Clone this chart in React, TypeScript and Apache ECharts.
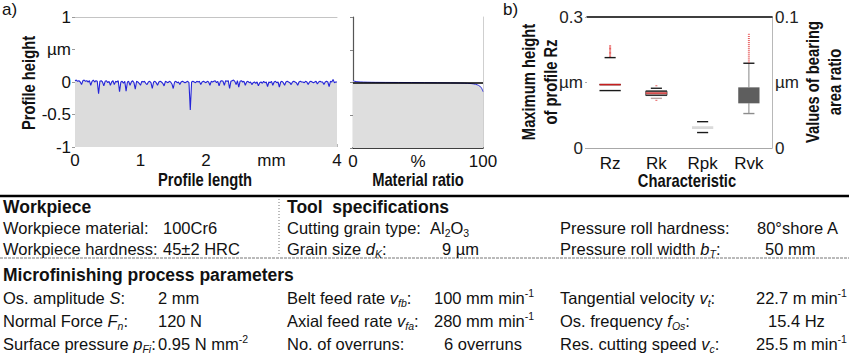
import React, { useEffect, useRef } from "react";
import * as echarts from "echarts";

const FONT = "'Liberation Sans', Arial, Helvetica, sans-serif";

// Roughness profile: heights in µm, one sample every 0.02 mm over 4 mm
const profileStepMm = 0.02;
const profileHeights = [
  0.02, 0.03, 0.01, 0.02, 0.0, -0.04, 0.02, 0.03, 0.01, 0.02,
  0.0, 0.02, -0.05, 0.01, 0.03, 0.0, 0.02, 0.01, -0.18, 0.01,
  0.02, 0.0, -0.06, 0.01, 0.02, -0.01, 0.01, -0.05, 0.0, 0.02,
  -0.04, 0.01, 0.0, 0.02, -0.15, 0.0, 0.01, -0.02, 0.01, -0.14,
  0.0, 0.01, -0.05, 0.0, 0.02, -0.01, -0.11, 0.01, 0.0, -0.02,
  -0.05, 0.01, 0.0, 0.01, -0.02, -0.04, 0.0, 0.01, -0.01, -0.1,
  0.0, 0.01, -0.01, -0.05, 0.0, 0.01, 0.0, -0.02, -0.06, 0.01,
  0.0, -0.01, 0.01, 0.0, -0.03, -0.1, 0.0, 0.01, -0.01, 0.0,
  -0.04, 0.0, 0.01, 0.0, -0.01, 0.0, 0.01, -0.01, -0.43, 0.0,
  0.01, 0.0, -0.01, 0.01, 0.0, 0.01, -0.04, 0.0, 0.01, 0.0,
  -0.01, 0.01, 0.0, -0.05, 0.01, 0.0, 0.01, 0.02, -0.01, 0.01,
  -0.06, 0.01, 0.02, 0.01, -0.05, 0.02, 0.01, 0.02, -0.1, 0.01,
  0.02, 0.03, 0.01, -0.04, 0.02, -0.08, 0.01, 0.02, 0.0, 0.01,
  -0.05, 0.0, 0.01, -0.01, 0.0, -0.04, -0.01, 0.0, -0.02, 0.0,
  -0.06, -0.01, 0.0, -0.02, 0.01, -0.01, 0.0, -0.07, 0.0, -0.01,
  0.01, -0.05, 0.0, 0.01, -0.01, 0.0, -0.08, 0.0, 0.01, -0.01,
  -0.05, 0.0, 0.01, 0.0, -0.01, -0.04, 0.0, 0.01, 0.0, -0.01,
  -0.05, 0.0, 0.01, 0.0, 0.0, -0.01, 0.01, 0.0, -0.04, 0.0,
  0.01, 0.0, -0.01, 0.0, 0.01, -0.03, 0.0, 0.01, 0.0, 0.0,
  -0.04, 0.0, 0.01, 0.0, -0.07, 0.01, 0.0, 0.04, -0.01, 0.0,
  0.0,
];

// Material ratio (Abbott-Firestone) curve
const materialRatioPct = [0, 1, 3, 8, 20, 40, 60, 80, 86, 90, 93, 95.5, 97.5, 99, 100];
const materialRatioHeight = [0.03, 0.02, 0.012, 0.006, 0.002, 0.0, -0.003, -0.007, -0.01, -0.015, -0.022, -0.035, -0.055, -0.09, -0.14];

// Roughness characteristics, box statistics in µm: [lower whisker, Q1, median, Q3, upper whisker]
const characteristics = ["Rz", "Rk", "Rpk", "Rvk"];
const rzBox = [0.1315, 0.1315, 0.1452, 0.1452, 0.207];
const rkBox = [0.0379, 0.0402, 0.0419, 0.0434, 0.0456];
const rpkBox = [0.0118, 0.0145, 0.0155, 0.0166, 0.0201];
const rvkBox = [0.0263, 0.0341, 0.04, 0.0463, 0.0647];
const rzOutliers = [0.21, 0.213, 0.216, 0.219, 0.222, 0.225, 0.228, 0.231, 0.234];
const rkOutliers = [0.0475, 0.0364];
const rvkOutliers = [0.0656, 0.0671, 0.0686, 0.0701, 0.0716, 0.0731, 0.0746, 0.0761, 0.0776, 0.0791, 0.0806, 0.0821, 0.0836, 0.0851, 0.0868];

// Tick labels
const lengthTicks = ["0", "1", "2", "mm", "4"];
const heightTicks = ["-1", "-0.5", "0", "µm", "1"];
const ratioTicks = ["0", "%", "100"];
const rzTicks = ["0", "µm", "0.3"];
const bearingTicks = ["0", "µm", "0.1"];

const tickFrom = (labels: string[], min: number, step: number) => (v: number) =>
  labels[Math.round((v - min) / step)] ?? "";

type Look = {
  fill: string | null;
  edge: string | null;
  sides: boolean;
  median: string | null;
  whisker: string | null;
  upperCap: string | null;
  lowerCap: string | null;
};

const boxLooks: Record<string, Look> = {
  Rz: { fill: null, edge: "#1a1a1a", sides: false, median: "#c81e1e", whisker: null, upperCap: "#1a1a1a", lowerCap: null },
  Rk: { fill: "#e6c3c3", edge: "#333333", sides: true, median: "#d03a3a", whisker: null, upperCap: "#222222", lowerCap: "#b8a2a2" },
  Rpk: { fill: "#dadada", edge: null, sides: false, median: null, whisker: null, upperCap: "#1a1a1a", lowerCap: "#1a1a1a" },
  Rvk: { fill: "#5e5e5e", edge: null, sides: false, median: null, whisker: "#9a9a9a", upperCap: "#1a1a1a", lowerCap: "#8c8c8c" },
};

const renderBox = (params: any, api: any) => {
  const cat = api.value(0);
  const look = boxLooks[characteristics[cat]];
  const lo = api.coord([cat, api.value(1)]);
  const q1 = api.coord([cat, api.value(2)]);
  const med = api.coord([cat, api.value(3)]);
  const q3 = api.coord([cat, api.value(4)]);
  const hi = api.coord([cat, api.value(5)]);
  const band = api.size([1, 0])[0];
  const bw = band * 0.46;
  const cw = band * 0.24;
  const cx = lo[0];
  const children: any[] = [];
  const hline = (y: number, half: number, color: string, w = 1.4) => ({
    type: "line",
    shape: { x1: cx - half, y1: y, x2: cx + half, y2: y },
    style: { stroke: color, lineWidth: w },
  });
  if (look.whisker) {
    children.push({ type: "line", shape: { x1: cx, y1: q3[1], x2: cx, y2: hi[1] }, style: { stroke: look.whisker, lineWidth: 1.2 } });
    children.push({ type: "line", shape: { x1: cx, y1: q1[1], x2: cx, y2: lo[1] }, style: { stroke: look.whisker, lineWidth: 1.2 } });
  }
  if (look.fill) {
    children.push({
      type: "rect",
      shape: { x: cx - bw / 2, y: q3[1], width: bw, height: Math.max(q1[1] - q3[1], 1) },
      style: { fill: look.fill, stroke: look.sides && look.edge ? look.edge : null, lineWidth: 0.8 },
    });
  }
  if (look.edge) {
    children.push(hline(q3[1], bw / 2, look.edge));
    children.push(hline(q1[1], bw / 2, look.edge));
  }
  if (look.median) children.push(hline(med[1], bw / 2, look.median, 1.5));
  if (look.upperCap) children.push(hline(hi[1], cw / 2, look.upperCap));
  if (look.lowerCap) children.push(hline(lo[1], cw / 2, look.lowerCap));
  return { type: "group", children };
};

const axisText = { fontFamily: FONT, fontSize: 17, color: "#111" };
const noSplit = { show: false };

const title = (text: string, x: number, y: number, vertical = false) => ({
  type: "text",
  x,
  y,
  rotation: vertical ? Math.PI / 2 : 0,
  scaleX: 0.82,
  style: { text, fontFamily: FONT, fontWeight: "bold", fontSize: 18, fill: "#111", align: "center", verticalAlign: "middle" },
});

const BODY = 16.5;
const rich = {
  i: { fontFamily: FONT, fontSize: BODY, fontStyle: "italic", fill: "#111" },
  s: { fontFamily: FONT, fontSize: 10.5, fontStyle: "italic", verticalAlign: "bottom", fill: "#111" },
  n: { fontFamily: FONT, fontSize: 10.5, verticalAlign: "bottom", fill: "#111" },
  u: { fontFamily: FONT, fontSize: 10.5, verticalAlign: "top", fill: "#111" },
};

const cell = (text: string, x: number, y: number, bold = false) => ({
  type: "text",
  x,
  y,
  style: {
    text,
    rich,
    fontFamily: FONT,
    fontSize: bold ? 17.5 : BODY,
    fontWeight: bold ? "bold" : "normal",
    lineHeight: 21,
    fill: "#111",
    align: "left",
    verticalAlign: "middle",
  },
});

const rowY = [207, 228, 249, 275, 298, 321, 344];
const dashY = 258;

const tableTexts = [
  cell("Workpiece", 3, rowY[0], true),
  cell("Tool  specifications", 287, rowY[0], true),
  cell("Workpiece material:", 3, rowY[1]),
  cell("100Cr6", 163, rowY[1]),
  cell("Cutting grain type:", 287, rowY[1]),
  cell("Al{n|2}O{n|3}", 430, rowY[1]),
  cell("Pressure roll hardness:", 560, rowY[1]),
  cell("80°shore A", 757, rowY[1]),
  cell("Workpiece hardness:", 3, rowY[2]),
  cell("45±2 HRC", 163, rowY[2]),
  cell("Grain size {i|d}{s|K}:", 287, rowY[2]),
  cell("9 µm", 442, rowY[2]),
  cell("Pressure roll width {i|b}{s|T}:", 560, rowY[2]),
  cell("50 mm", 765, rowY[2]),
  cell("Microfinishing process parameters", 3, rowY[3], true),
  cell("Os. amplitude {i|S}:", 3, rowY[4]),
  cell("2 mm", 158, rowY[4]),
  cell("Belt feed rate {i|v}{s|fb}:", 287, rowY[4]),
  cell("100 mm min{u|-1}", 434, rowY[4]),
  cell("Tangential velocity {i|v}{s|t}:", 560, rowY[4]),
  cell("22.7 m min{u|-1}", 756, rowY[4]),
  cell("Normal Force {i|F}{s|n}:", 3, rowY[5]),
  cell("120 N", 158, rowY[5]),
  cell("Axial feed rate {i|v}{s|fa}:", 287, rowY[5]),
  cell("280 mm min{u|-1}", 434, rowY[5]),
  cell("Os. frequency {i|f}{s|Os}:", 560, rowY[5]),
  cell("15.4 Hz", 768, rowY[5]),
  cell("Surface pressure {i|p}{s|Fi}:", 3, rowY[6]),
  cell("0.95 N mm{u|-2}", 158, rowY[6]),
  cell("No. of overruns:", 287, rowY[6]),
  cell("6 overruns", 444, rowY[6]),
  cell("Res. cutting speed {i|v}{s|c}:", 560, rowY[6]),
  cell("25.5 m min{u|-1}", 756, rowY[6]),
];

const tableRules = [
  { type: "line", shape: { x1: 0, y1: 196, x2: 849, y2: 196 }, style: { stroke: "#000", lineWidth: 2.5 } },
  { type: "line", shape: { x1: 279, y1: 199, x2: 279, y2: 256 }, style: { stroke: "#777", lineWidth: 1, lineDash: [1, 2] } },
  { type: "line", shape: { x1: 0, y1: dashY, x2: 849, y2: dashY }, style: { stroke: "#777", lineWidth: 1, lineDash: [3, 1] } },
];

export default function App() {
  const ref = useRef<HTMLDivElement>(null);

  useEffect(() => {
    document.body.style.margin = "0";
    const chart = echarts.init(ref.current!, null, { renderer: "svg" });
    const profile = profileHeights.map((h, i) => [i * profileStepMm, h]);
    const abbott = materialRatioPct.map((p, i) => [p, materialRatioHeight[i]]);

    chart.setOption({
      animation: false,
      backgroundColor: "#fff",
      textStyle: { fontFamily: FONT },
      grid: [
        { left: 75, top: 17, width: 262, height: 130 },
        { left: 353, top: 17, width: 130, height: 131 },
        { left: 587, top: 17, width: 185, height: 131 },
      ],
      xAxis: [
        {
          gridIndex: 0, type: "value", min: 0, max: 4, interval: 1,
          axisLine: { show: false, onZero: false },
          axisTick: { show: true, inside: true, length: 3, lineStyle: { color: "#b5b5b5" } },
          splitLine: noSplit,
          axisLabel: { ...axisText, margin: 5, formatter: tickFrom(lengthTicks, 0, 1) },
        },
        {
          gridIndex: 0, type: "value", position: "top", min: 0, max: 4,
          axisLine: { show: true, onZero: false, lineStyle: { color: "#c4c4c4" } },
          axisTick: { show: false }, axisLabel: { show: false }, splitLine: noSplit,
        },
        {
          gridIndex: 1, type: "value", min: 0, max: 100, interval: 50,
          axisLine: { show: true, onZero: false, lineStyle: { color: "#000", width: 1.5 } },
          axisTick: { show: false }, splitLine: noSplit,
          axisLabel: { ...axisText, margin: 5, formatter: tickFrom(ratioTicks, 0, 50) },
        },
        {
          gridIndex: 2, type: "category", data: characteristics,
          axisLine: { show: true, onZero: false, lineStyle: { color: "#a8a8a8" } },
          axisTick: { show: false },
          axisLabel: { ...axisText, margin: 7 },
        },
        {
          gridIndex: 2, type: "category", position: "top", data: characteristics,
          axisLine: { show: true, onZero: false, lineStyle: { color: "#000", width: 1.5 } },
          axisTick: { show: false }, axisLabel: { show: false },
        },
      ],
      yAxis: [
        {
          gridIndex: 0, type: "value", min: -1, max: 1, interval: 0.5,
          axisLine: { show: false, onZero: false },
          axisTick: { show: true, length: 3, lineStyle: { color: "#9a9a9a" } },
          splitLine: noSplit,
          axisLabel: { ...axisText, margin: 4, formatter: tickFrom(heightTicks, -1, 0.5) },
        },
        {
          gridIndex: 1, type: "value", min: -1, max: 1, interval: 0.5,
          axisLine: { show: true, onZero: false, lineStyle: { color: "#555", width: 1.2 } },
          axisTick: { show: true, length: 3, lineStyle: { color: "#888" } },
          splitLine: noSplit, axisLabel: { show: false },
        },
        {
          gridIndex: 1, type: "value", position: "right", min: -1, max: 1,
          axisLine: { show: true, onZero: false, lineStyle: { color: "#cfcfcf" } },
          axisTick: { show: false }, axisLabel: { show: false }, splitLine: noSplit,
        },
        {
          gridIndex: 2, type: "value", min: 0, max: 0.3, interval: 0.15,
          axisLine: { show: false, onZero: false },
          axisTick: { show: true, length: 2, lineStyle: { color: "#aaa" } },
          splitLine: noSplit,
          axisLabel: { ...axisText, color: "#222", margin: 4, formatter: tickFrom(rzTicks, 0, 0.15) },
        },
        {
          gridIndex: 2, type: "value", position: "right", min: 0, max: 0.1, interval: 0.05,
          axisLine: { show: true, onZero: false, lineStyle: { color: "#b8b8b8" } },
          axisTick: { show: false }, splitLine: noSplit,
          axisLabel: { ...axisText, color: "#222", margin: 3, formatter: tickFrom(bearingTicks, 0, 0.05) },
        },
      ],
      series: [
        {
          type: "line", xAxisIndex: 0, yAxisIndex: 0, data: profile,
          showSymbol: false, silent: true,
          lineStyle: { color: "#2424d8", width: 1.1 },
          areaStyle: { color: "#dcdcdc", opacity: 1, origin: "start" },
        },
        {
          type: "line", xAxisIndex: 2, yAxisIndex: 1, data: abbott, smooth: 0.3,
          showSymbol: false, silent: true,
          lineStyle: { color: "#2626d6", width: 1 },
          areaStyle: { color: "#dedede", opacity: 1, origin: "start" },
          markLine: {
            silent: true, symbol: "none", label: { show: false },
            lineStyle: { color: "#000", width: 1.5, type: "solid" },
            data: [{ yAxis: 0 }],
          },
        },
        {
          type: "custom", xAxisIndex: 3, yAxisIndex: 3, renderItem: renderBox,
          encode: { x: 0, y: [1, 2, 3, 4, 5] },
          data: [[0, ...rzBox]],
        },
        {
          type: "custom", xAxisIndex: 3, yAxisIndex: 4, renderItem: renderBox,
          encode: { x: 0, y: [1, 2, 3, 4, 5] },
          data: [[1, ...rkBox], [2, ...rpkBox], [3, ...rvkBox]],
        },
        {
          type: "scatter", xAxisIndex: 3, yAxisIndex: 3, symbol: "rect", symbolSize: [2, 1],
          itemStyle: { color: "#e02828" }, silent: true,
          data: rzOutliers.map((v) => [0, v]),
        },
        {
          type: "scatter", xAxisIndex: 3, yAxisIndex: 4, symbol: "rect", symbolSize: [2, 1],
          itemStyle: { color: "#e23a3a" }, silent: true,
          data: [...rkOutliers.map((v) => [1, v]), ...rvkOutliers.map((v) => [3, v])],
        },
      ],
      graphic: {
        elements: [
          { type: "text", x: 2, y: 9, style: { text: "a)", fontFamily: FONT, fontSize: 17, fill: "#111", verticalAlign: "middle" } },
          { type: "text", x: 503, y: 9, style: { text: "b)", fontFamily: FONT, fontSize: 17, fill: "#111", verticalAlign: "middle" } },
          title("Profile height", 28, 83, true),
          title("Profile length", 205, 179),
          title("Material ratio", 418, 179),
          title("Maximum height", 528, 82, true),
          title("of profile Rz", 550, 82, true),
          title("Values of bearing", 812, 82, true),
          title("area ratio", 834, 82, true),
          title("Characteristic", 687, 180),
          ...tableRules,
          ...tableTexts,
        ],
      },
    });
    return () => chart.dispose();
  }, []);

  return <div ref={ref} style={{ width: 849, height: 358 }} />;
}
